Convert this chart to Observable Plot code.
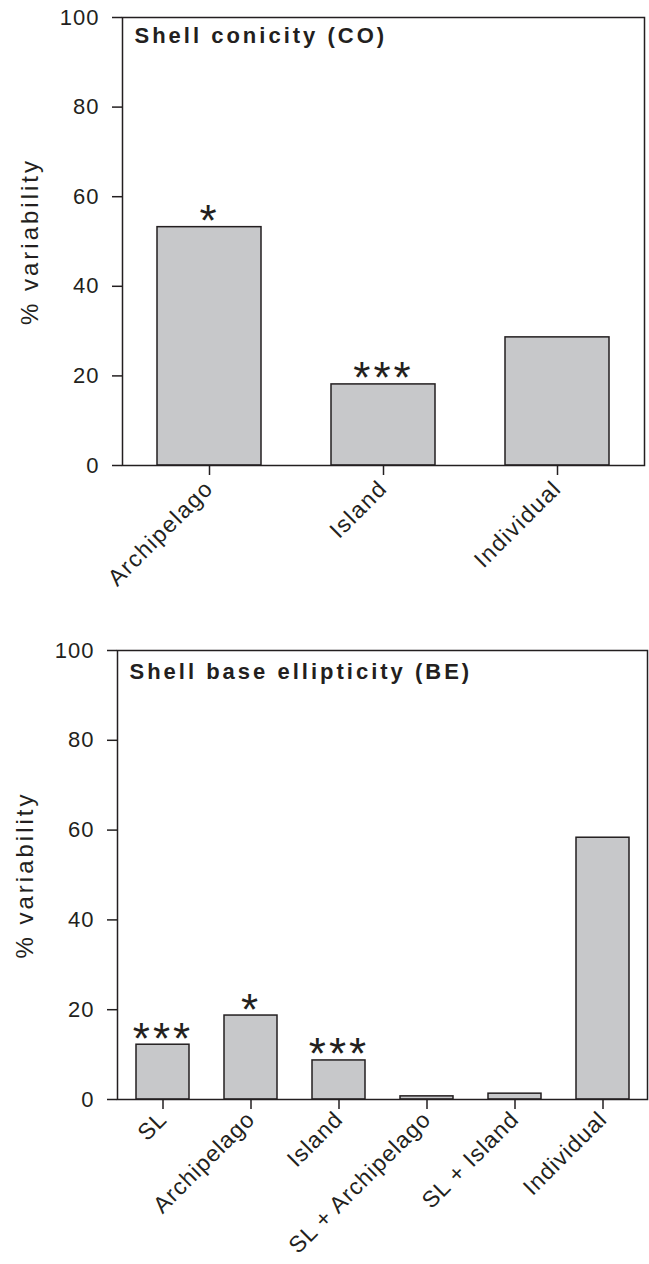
<!DOCTYPE html>
<html><head><meta charset="utf-8">
<script src="https://cdn.jsdelivr.net/npm/d3@7"></script>
<script src="https://cdn.jsdelivr.net/npm/@observablehq/plot@0.6"></script>
<style>
body{margin:0;background:#fff}
svg{display:block}
</style>
</head><body><div id="c"></div>
<script>
const coCategories = ["Archipelago", "Island", "Individual"];
const coValues = [53.2, 18.1, 28.6];
const coStars = ["*", "***", ""];

const beCategories = ["SL", "Archipelago", "Island", "SL + Archipelago", "SL + Island", "Individual"];
const beValues = [12.2, 18.7, 8.7, 0.7, 1.3, 58.3];
const beStars = ["***", "*", "***", "", "", ""];

const yTicks = [0, 20, 40, 60, 80, 100];
const yLabel = "% variability";

const ink = "#231f20";

function panel(cats, vals, stars, title, o) {
  const data = cats.map((c, i) => ({cat: c, v: vals[i], s: stars[i]}));
  const svg = Plot.plot({
    width: 649, height: o.height,
    marginTop: o.mt, marginBottom: o.mb, marginLeft: o.ml, marginRight: o.mr,
    style: {fontFamily: "'Liberation Sans', Arial, sans-serif", color: ink, background: "#fff"},
    x: {type: "band", domain: cats, paddingInner: 0.4, paddingOuter: 0.2, label: null},
    y: {domain: [0, 100], label: null},
    marks: [
      Plot.barY(data, {x: "cat", y: "v", fill: "#c7c8ca", stroke: ink, strokeWidth: 1.5}),
      Plot.frame({stroke: ink, strokeWidth: 1.5}),
      Plot.axisY({ticks: yTicks, tickSize: 10, tickPadding: 13, fontSize: 22, label: null, stroke: ink, strokeWidth: 1.5}),
      Plot.axisX({tickSize: 10, tickPadding: o.xpad, tickRotate: -45, fontSize: 23, label: null, stroke: ink, strokeWidth: 1.5}),
      Plot.text(data, {x: "cat", y: "v", text: "s", lineAnchor: "bottom", dy: 9, fontSize: 44, fill: ink}),
      Plot.text([title], {frameAnchor: "top-left", lineAnchor: "top", dx: 12, dy: o.tdy, fontSize: 22, fontWeight: "bold", fill: ink}),
      Plot.text([yLabel], {frameAnchor: "left", rotate: -90, lineAnchor: "middle", textAnchor: "middle", dx: -92, fontSize: 24, fill: ink})
    ]
  });
  const s = d3.select(svg);
  const textGroups = s.selectAll('g[aria-label="text"]').nodes();
  d3.select(textGroups[0]).style("letter-spacing", "3px");
  d3.select(textGroups[1]).style("letter-spacing", "3px");
  d3.select(textGroups[2]).style("letter-spacing", "3px");
  s.selectAll('g[aria-label="x-axis tick label"]').style("letter-spacing", o.xls);
  s.selectAll('g[aria-label="y-axis tick label"]').style("letter-spacing", "1px");
  return svg;
}

const c = document.getElementById("c");
c.append(panel(coCategories, coValues, coStars, "Shell conicity (CO)", {height: 610, mt: 17, mb: 145, ml: 122, mr: 5, tdy: 9.5, xpad: 9, xls: "1.5px"}));
c.append(panel(beCategories, beValues, beStars, "Shell base ellipticity (BE)", {height: 654, mt: 40, mb: 165, ml: 117, mr: 2, tdy: 13, xpad: 6, xls: "1px"}));
</script>
</body></html>
